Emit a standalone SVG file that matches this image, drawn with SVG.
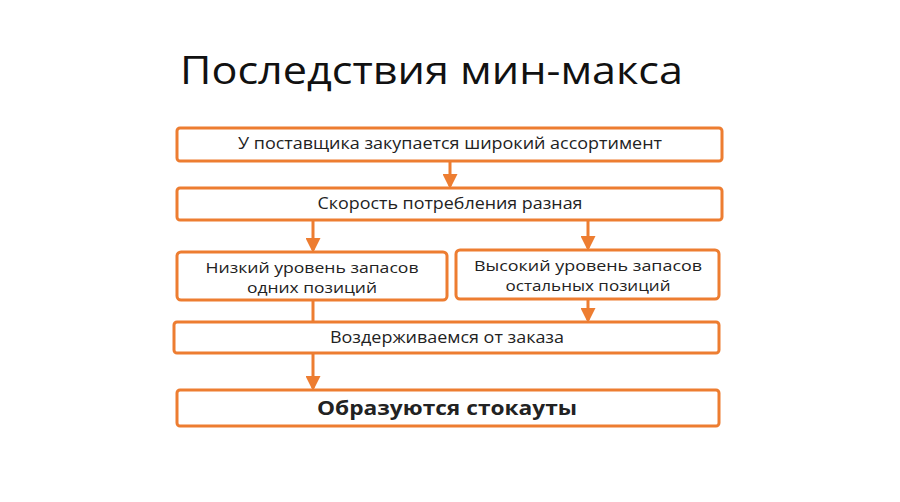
<svg xmlns="http://www.w3.org/2000/svg" width="900" height="502" viewBox="0 0 900 502">
<style>
.box{fill:#fff;stroke:#ED7D31;stroke-width:3}
.t{font-family:"Open Sans","Liberation Sans",sans-serif;font-size:16.5px;fill:#222;text-anchor:middle}
.s{font-size:14.5px}
.b{font-family:"Open Sans","Liberation Sans",sans-serif;font-size:20px;font-weight:bold;fill:#222;text-anchor:middle}
.ln{stroke:#ED7D31;stroke-width:3;fill:none}
</style>
<defs>
<marker id="ah" markerWidth="5" markerHeight="5" refX="4" refY="2.5" orient="auto" markerUnits="strokeWidth">
<path d="M0,0 L5,2.5 L0,5 Z" fill="#ED7D31"/>
</marker>
</defs>
<rect width="900" height="502" fill="#fff"/>
<text x="180" y="84" font-family="Open Sans, Liberation Sans, sans-serif" font-size="38" fill="#111" textLength="503" lengthAdjust="spacingAndGlyphs">Последствия мин-макса</text>
<g id="connectors">
<line class="ln" x1="450" y1="161" x2="450" y2="186" marker-end="url(#ah)"/>
<line class="ln" x1="313" y1="220" x2="313" y2="250" marker-end="url(#ah)"/>
<line class="ln" x1="588" y1="220" x2="588" y2="248" marker-end="url(#ah)"/>
<line class="ln" x1="313" y1="300" x2="313" y2="322"/>
<line class="ln" x1="588" y1="299" x2="588" y2="320" marker-end="url(#ah)"/>
<line class="ln" x1="313" y1="353" x2="313" y2="388" marker-end="url(#ah)"/>
</g>
<g id="n1"><rect class="box" x="177" y="128" width="545" height="33" rx="3"/><text class="t" x="450" y="149" textLength="424" lengthAdjust="spacingAndGlyphs">У поставщика закупается широкий ассортимент</text></g>
<g id="n2"><rect class="box" x="177" y="188" width="545" height="32" rx="3"/><text class="t" x="450" y="209" textLength="265" lengthAdjust="spacingAndGlyphs">Скорость потребления разная</text></g>
<g id="n3"><rect class="box" x="177" y="252" width="270" height="48" rx="4"/><text class="t s" x="312" y="273" textLength="213" lengthAdjust="spacingAndGlyphs">Низкий уровень запасов</text><text class="t s" x="312" y="293" textLength="130" lengthAdjust="spacingAndGlyphs">одних позиций</text></g>
<g id="n4"><rect class="box" x="456" y="250" width="263" height="49" rx="4"/><text class="t s" x="588" y="271" textLength="228" lengthAdjust="spacingAndGlyphs">Высокий уровень запасов</text><text class="t s" x="588" y="291" textLength="165" lengthAdjust="spacingAndGlyphs">остальных позиций</text></g>
<g id="n5"><rect class="box" x="174" y="322" width="545" height="31" rx="3"/><text class="t" x="447" y="343" textLength="234" lengthAdjust="spacingAndGlyphs">Воздерживаемся от заказа</text></g>
<g id="n6"><rect class="box" x="177" y="390" width="542" height="36" rx="3"/><text class="b" x="447" y="415" textLength="260" lengthAdjust="spacingAndGlyphs">Образуются стокауты</text></g>
</svg>
